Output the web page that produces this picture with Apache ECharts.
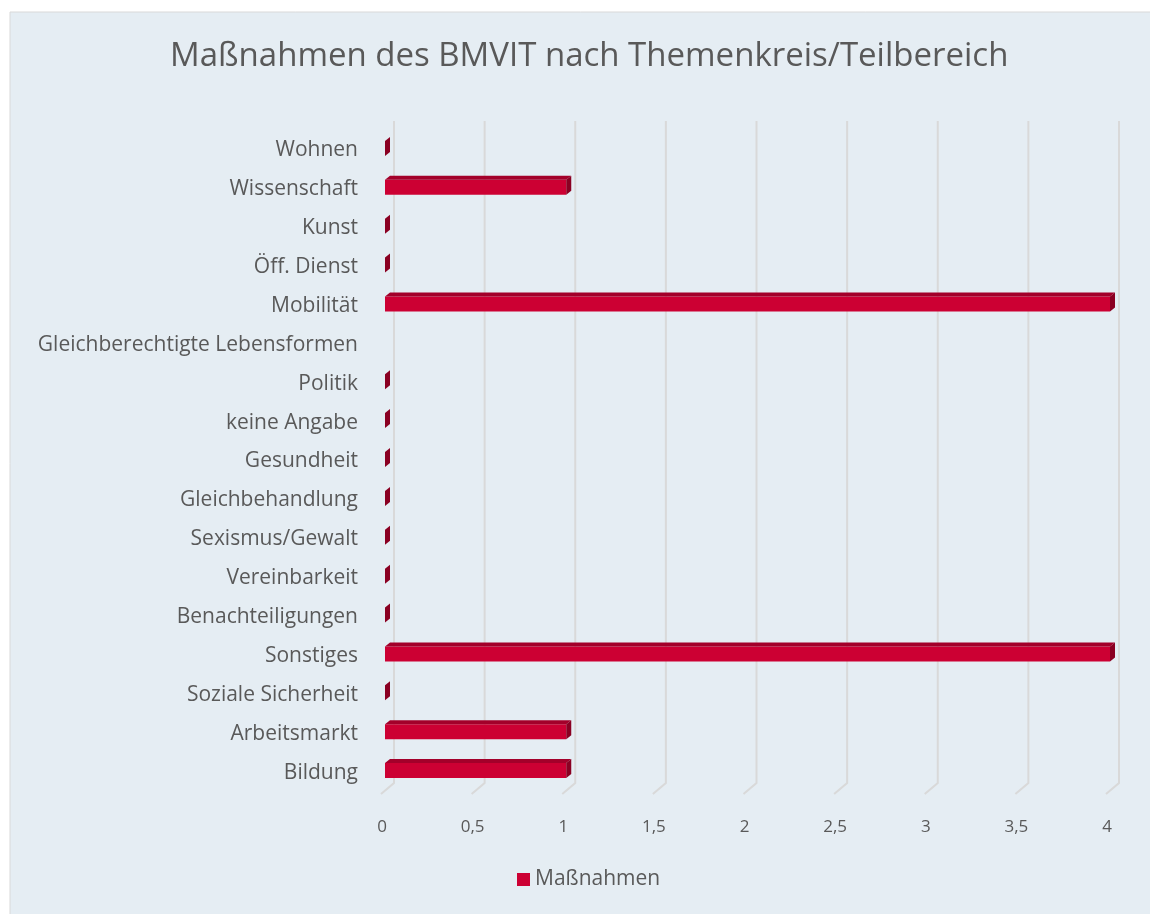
<!DOCTYPE html>
<html>
<head>
<meta charset="utf-8">
<script src="https://cdn.jsdelivr.net/npm/echarts@6/dist/echarts.min.js"></script>
<style>
  html, body { margin: 0; padding: 0; background: #ffffff; }
  #chart { width: 1150px; height: 914px; }
</style>
</head>
<body>
<div id="chart"></div>
<script>
// Categories top to bottom, as in the reference
const categories = [
    'Wohnen', 'Wissenschaft', 'Kunst', 'Öff. Dienst', 'Mobilität',
    'Gleichberechtigte Lebensformen', 'Politik', 'keine Angabe', 'Gesundheit',
    'Gleichbehandlung', 'Sexismus/Gewalt', 'Vereinbarkeit', 'Benachteiligungen',
    'Sonstiges', 'Soziale Sicherheit', 'Arbeitsmarkt', 'Bildung'
];
// null = no entry (no bar drawn at all)
const massnahmen = [0, 1, 0, 0, 4, null, 0, 0, 0, 0, 0, 0, 0, 4, 0, 1, 1];
const xTicks = [0, 0.5, 1, 1.5, 2, 2.5, 3, 3.5, 4];

const textColor = '#595959';
const fontFamily = '"Open Sans", sans-serif';

document.addEventListener('DOMContentLoaded', function() {
    const chart = echarts.init(document.getElementById('chart'));

    // 3D bar: front face, top face and side face
    function renderBar(params, api) {
        const v = api.value(0);
        if (v === null || isNaN(v)) return;
        const i = api.value(1);
        const p0 = api.coord([0, i]);
        const p1 = api.coord([v, i]);
        const h = 15, dx = 5, dy = 4;
        const top = p0[1] - h / 2 - 2, bottom = top + h;
        const children = [];
        if (p1[0] - p0[0] > 0.5) {
            children.push({
                type: 'rect',
                shape: { x: p0[0], y: top, width: p1[0] - p0[0], height: h },
                style: { fill: '#cc0033' }
            });
            children.push({
                type: 'polygon',
                shape: { points: [[p0[0], top], [p0[0] + dx, top - dy], [p1[0] + dx, top - dy], [p1[0], top]] },
                style: { fill: '#a3002a' }
            });
        }
        children.push({
            type: 'polygon',
            shape: { points: [[p1[0], top], [p1[0] + dx, top - dy], [p1[0] + dx, bottom - dy], [p1[0], bottom]] },
            style: { fill: '#8a0022' }
        });
        return { type: 'group', children: children };
    }

    // back wall gridlines and floor lines
    function renderGrid(params, api) {
        const v = api.value(0);
        const pTop = api.coord([v, 0]);
        const pBot = api.coord([v, categories.length - 1]);
        const band = api.size([0, 1])[1];
        const yTop = pTop[1] - band / 2 - 10;
        const yBot = pBot[1] + band / 2 - 9;
        const x = pTop[0] + 9;
        return {
            type: 'polyline',
            shape: { points: [[x, yTop], [x, yBot], [x - 13, yBot + 11]] },
            style: { stroke: '#d9d9d9', lineWidth: 2, fill: null },
            silent: true
        };
    }

    const barData = massnahmen.map((v, i) => [v === null ? '-' : v, i]);
    const gridData = xTicks.map(t => [t]);

    const option = {
        backgroundColor: '#ffffff',
        animation: false,
        graphic: [{
            type: 'rect',
            z: -10,
            shape: { x: 10, y: 12, width: 1150, height: 914 },
            style: { fill: '#e5edf3', stroke: '#d9d9d9', lineWidth: 1 }
        }],
        title: {
            text: 'Maßnahmen des BMVIT nach Themenkreis/Teilbereich',
            left: 165,
            top: 35,
            textStyle: {
                color: textColor,
                fontFamily: fontFamily,
                fontSize: 33,
                fontWeight: 'normal'
            }
        },
        legend: {
            data: [{ name: 'Maßnahmen', icon: 'rect' }],
            bottom: 19,
            left: 512,
            itemWidth: 13,
            itemHeight: 13,
            itemGap: 6,
            textStyle: { color: textColor, fontFamily: fontFamily, fontSize: 21 }
        },
        grid: {
            left: 385,
            right: 40,
            top: 131,
            bottom: 122
        },
        xAxis: {
            type: 'value',
            min: 0,
            max: 4,
            interval: 0.5,
            axisLine: { show: false },
            axisTick: { show: false },
            splitLine: { show: false },
            axisLabel: {
                margin: 27,
                color: textColor,
                fontFamily: fontFamily,
                fontSize: 17,
                padding: [0, 6, 0, 0],
                formatter: v => String(v).replace('.', ',')
            }
        },
        yAxis: {
            type: 'category',
            data: categories,
            inverse: true,
            axisLine: { show: false },
            axisTick: { show: false },
            axisLabel: {
                margin: 27,
                color: textColor,
                fontFamily: fontFamily,
                fontSize: 21
            }
        },
        series: [
            {
                type: 'custom',
                name: 'grid',
                renderItem: renderGrid,
                data: gridData,
                encode: { x: 0 },
                silent: true,
                z: 1
            },
            {
                type: 'custom',
                name: 'Maßnahmen',
                renderItem: renderBar,
                data: barData,
                encode: { x: 0, y: 1 },
                itemStyle: { color: '#cc0033' },
                z: 2
            }
        ]
    };

    chart.setOption(option);

    window.addEventListener('resize', function() {
        chart.resize();
    });
});
</script>
</body>
</html>
